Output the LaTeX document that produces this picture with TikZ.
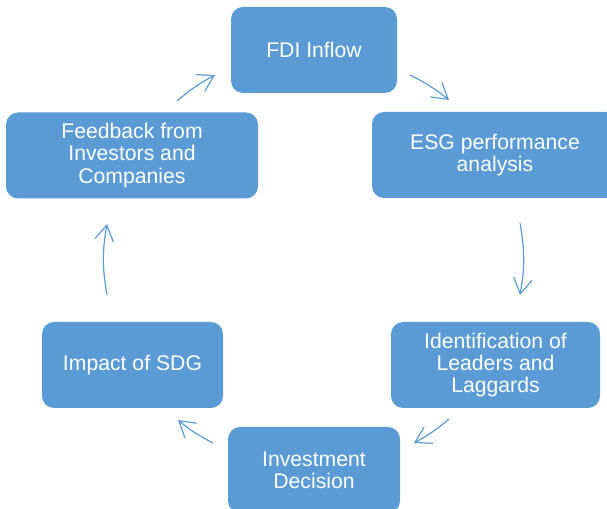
\documentclass[tikz,border=0pt]{standalone}
\usepackage{fontspec}
\setmainfont{Liberation Sans}
\usetikzlibrary{arrows.meta}
\definecolor{boxblue}{HTML}{5B9BD5}
\begin{document}
\begin{tikzpicture}[x=0.75pt,y=-0.75pt,
  stage/.style={draw=none, fill=boxblue, rounded corners=9pt, text=white,
    align=center, font=\fontsize{15.9}{16.6}\selectfont,
    minimum height=64.5pt, inner sep=0pt},
  flow/.style={draw=boxblue, line width=0.9pt,
    -{Straight Barb[length=11.5pt,width=14pt]}}]
\useasboundingbox (0,0) rectangle (607,509);
\clip (0,0) rectangle (607,509);

% process stages
\node[stage, minimum width=124.5pt] (fdi)      at (314,50)    {FDI Inflow};
\node[stage, minimum width=184.5pt] (esg)      at (495,155)   {ESG performance\\analysis};
\node[stage, minimum width=156.75pt] (ident)   at (495.5,365) {Identification of\\Leaders and\\Laggards};
\node[stage, minimum width=129pt] (invest)     at (314,470)   {Investment\\Decision};
\node[stage, minimum width=135.75pt] (impact)  at (132.5,365) {Impact of SDG};
\node[stage, minimum width=189pt] (feedback)   at (132,155.5) {Feedback from\\Investors and\\Companies};

% arc ends of the cycle arrows
\coordinate (fb-out)  at (177,101);
\coordinate (fdi-in)  at (215,75);
\coordinate (fdi-out) at (410,75);
\coordinate (esg-in)  at (449,100);
\coordinate (esg-out) at (520,223);
\coordinate (id-in)   at (520,295);
\coordinate (id-out)  at (449,419);
\coordinate (inv-in)  at (414,443);
\coordinate (inv-out) at (213,443);
\coordinate (imp-in)  at (178,420);
\coordinate (imp-out) at (107,295);
\coordinate (fb-in)   at (107,224);

\draw[flow] (fb-out)  to[bend left=6]  (fdi-in);
\draw[flow] (fdi-out) to[bend left=6]  (esg-in);
\draw[flow] (esg-out) to[bend left=10] (id-in);
\draw[flow] (id-out)  to[bend left=6]  (inv-in);
\draw[flow] (inv-out) to[bend left=6]  (imp-in);
\draw[flow] (imp-out) to[bend left=10] (fb-in);
\end{tikzpicture}
\end{document}
